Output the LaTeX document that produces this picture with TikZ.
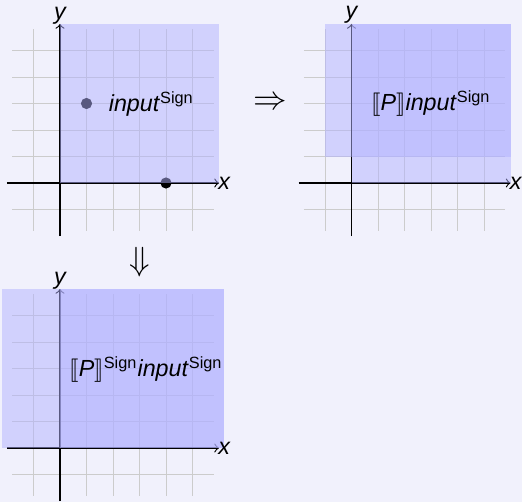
\documentclass[tikz,border=0pt]{standalone}
\usepackage{fontspec}
\setmainfont{Liberation Sans}
\usepackage{stmaryrd}
\definecolor{bgc}{RGB}{241,241,252}
\begin{document}
\begin{tikzpicture}[x=0.4cm,y=0.4cm,
  gridline/.style={draw=gray!40, line width=0.4pt, step=0.4cm},
  axis/.style={->, line width=0.5pt},
  region/.style={fill=blue!30, opacity=0.5},
  dotmark/.style={fill=black},
  axlabel/.style={inner sep=0pt, font=\itshape},
  txt/.style={anchor=base, inner sep=0pt},
  bigsym/.style={inner sep=0pt, font=\Large}]
\fill[bgc] (-2.264,-12.038) rectangle (17.434,6.906);
\useasboundingbox (-2.264,-12.038) rectangle (17.434,6.906);

% panel 1
\begin{scope}
  \draw[gridline] (-1.8,-1.8) grid (5.8,5.8);
  \coordinate (a1l) at (-2,0); \coordinate (a1r) at (6,0);
  \coordinate (a1b) at (0,-2); \coordinate (a1t) at (0,6);
  \draw[axis] (a1l) -- (a1r);
  \draw[axis] (a1b) -- (a1t);
  \fill[dotmark] (1,3) circle (2.4pt);
  \fill[dotmark] (4,0) circle (2.4pt);
  \fill[region] (0,0) rectangle (6,6);
  \node[axlabel] (x1) at (6.2,0) {x};
  \node[axlabel] (y1) at (0,6.32) {y};
  \node[txt] (t1) at (3.45,2.69) {\textit{input}\textsuperscript{Sign}};
\end{scope}

% panel 2
\begin{scope}[shift={(11,0)}]
  \draw[gridline] (-1.8,-1.8) grid (5.8,5.8);
  \coordinate (a2l) at (-2,0); \coordinate (a2r) at (6,0);
  \coordinate (a2b) at (0,-2); \coordinate (a2t) at (0,6);
  \draw[axis] (a2l) -- (a2r);
  \draw[axis] (a2b) -- (a2t);
  \fill[region] (-1,1) rectangle (6,6);
  \fill[region] (0,0) rectangle (6,6);
  \node[axlabel] (x2) at (6.2,0) {x};
  \node[axlabel] (y2) at (0,6.34) {y};
  \node[txt] (t2) at (3,2.72) {$\llbracket\textit{P}\rrbracket$\textit{input}\textsuperscript{Sign}};
\end{scope}

% panel 3
\begin{scope}[shift={(0,-10)}]
  \draw[gridline] (-1.8,-1.8) grid (5.8,5.8);
  \coordinate (a3l) at (-2,0); \coordinate (a3r) at (6,0);
  \coordinate (a3b) at (0,-2); \coordinate (a3t) at (0,6);
  \draw[axis] (a3l) -- (a3r);
  \draw[axis] (a3b) -- (a3t);
  \fill[region] (-2.2,0) rectangle (6.2,6);
  \fill[region] (0,0) rectangle (6.2,6);
  \node[axlabel] (x3) at (6.2,0) {x};
  \node[axlabel] (y3) at (0,6.32) {y};
  \node[txt] (t3) at (3.25,2.69) {$\llbracket\textit{P}\rrbracket$\textsuperscript{Sign}\textit{input}\textsuperscript{Sign}};
\end{scope}

\node[bigsym] (impl) at (7.95,3) {$\Rightarrow$};
\node[bigsym] (down) at (3,-3) {$\Downarrow$};
\end{tikzpicture}
\end{document}
